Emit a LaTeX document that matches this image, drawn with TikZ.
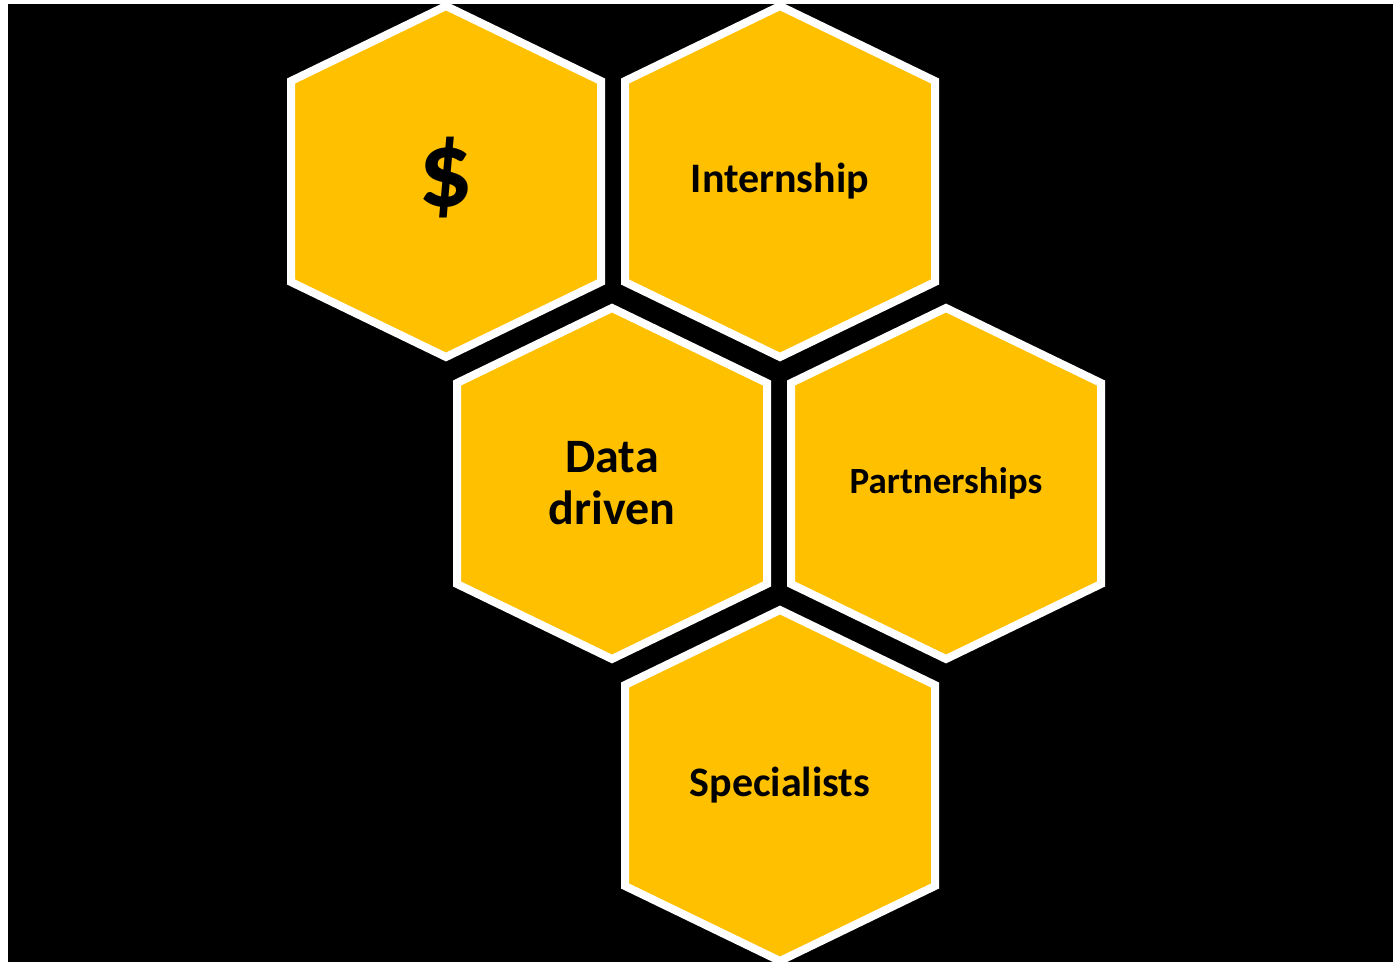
\documentclass[tikz,border=0pt]{standalone}
\usepackage{fontspec}
\setmainfont{Carlito}
\usepackage{tikz}
\definecolor{honey}{HTML}{FFC000}
\def\hexw{155}
\def\hexd{75}
\def\hexs{201}

\begin{document}
\begin{tikzpicture}[x=1pt,y=-1pt]
    \tikzstyle{cell}=[fill=honey,draw=white,line width=8pt]
    \tikzstyle{cell text}=[text=black,align=center,inner sep=0pt]

    % Background and page size
    \fill[white] (0,0) rectangle (1393,964);
    \fill[black] (8,4) rectangle (1393,962);
    \useasboundingbox (0,0) rectangle (1393,964);

    % Draw the honeycomb cells
    \foreach \x / \y in {446/181.5, 780/181.5, 612/483.5, 946/483.5, 780/785.5}
        \draw[cell] (\x,\y) ++(0,-175.5) -- ++(\hexw,\hexd) -- ++(0,\hexs)
            -- ++(-\hexw,\hexd) -- ++(-\hexw,-\hexd) -- ++(0,-\hexs) -- cycle;

    % Put the words in the cells
    \node[cell text,font=\bfseries\fontsize{108}{108}\selectfont] (money) at (446,178) {\$};
    \node[cell text,font=\bfseries\fontsize{42}{50}\selectfont] (intern) at (780,181.5) {Internship};
    \node[cell text,font=\bfseries\fontsize{48}{52}\selectfont] (data) at (612,483.5) {Data\\driven};
    \node[cell text,font=\bfseries\fontsize{37}{45}\selectfont] (partner) at (946,483.5) {Partnerships};
    \node[cell text,font=\bfseries\fontsize{42}{50}\selectfont] (spec) at (780,785.5) {Specialists};
\end{tikzpicture}
\end{document}
